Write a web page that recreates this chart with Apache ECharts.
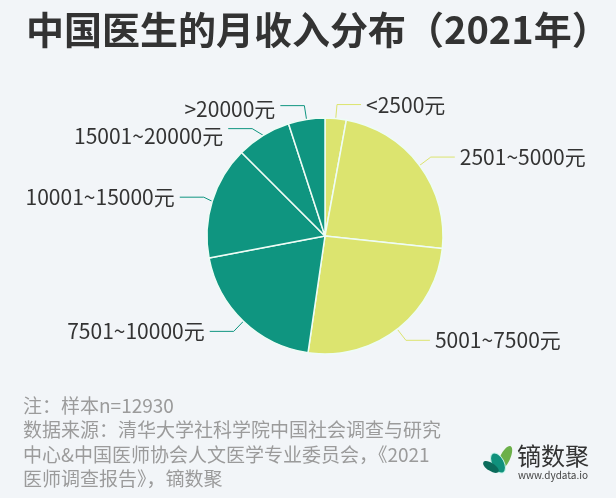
<!DOCTYPE html>
<html>
<head>
<meta charset="utf-8">
<script src="https://cdn.jsdelivr.net/npm/echarts@6/dist/echarts.min.js"></script>
<style>
  html, body { margin: 0; padding: 0; background: #f2f5f8; }
  #main { width: 616px; height: 498px; }
</style>
</head>
<body>
<div id="main"></div>
<script>
// 月收入区间（顺时针，从12点方向开始）
var incomeNames = ['<2500元', '2501~5000元', '5001~7500元', '7501~10000元', '10001~15000元', '15001~20000元', '>20000元'];
// 占比 %，从图上读出的估计值
var incomeShares = [2.9, 23.8, 25.6, 19.7, 15.5, 7.5, 5.0];
var sliceColors = ['#dce46f', '#dce46f', '#dce46f', '#0f9580', '#0f9580', '#0f9580', '#0f9580'];

var noteLines = [
    '注：样本n=12930',
    '数据来源：清华大学社科学院中国社会调查与研究',
    '中心&中国医师协会人文医学专业委员会，《2021',
    '医师调查报告》，镝数聚'
];

var font = '"Noto Sans CJK SC", "Noto Sans", sans-serif';

var pieData = incomeNames.map(function (n, i) {
    return { name: n, value: incomeShares[i], itemStyle: { color: sliceColors[i] } };
});

var footer = noteLines.map(function (t, i) {
    return {
        type: 'text',
        left: 23,
        top: 396 + i * 24.5,
        style: { text: t, fill: '#9b9b9b', font: '19px ' + font }
    };
});

var logo = [
    // 叶子
    { type: 'ellipse', shape: { cx: 0, cy: 0, rx: 5, ry: 13 }, x: 505, y: 458, rotation: -0.45,
      style: { fill: '#6cb04a' } },
    { type: 'ellipse', shape: { cx: 0, cy: 0, rx: 6, ry: 11 }, x: 498, y: 463, rotation: 0.5,
      style: { fill: '#10917c', stroke: '#c8f5ea', lineWidth: 1 } },
    { type: 'ellipse', shape: { cx: 0, cy: 0, rx: 4, ry: 9 }, x: 491, y: 467, rotation: 1.0,
      style: { fill: '#0b6b5b' } },
    { type: 'text', left: 517, top: 444, style: { text: '镝数聚', fill: '#333', font: '24px ' + font } },
    { type: 'text', left: 518, top: 470, style: { text: 'www.dydata.io', fill: '#444', font: '10px ' + font } }
];

var chart = echarts.init(document.getElementById('main'));
chart.setOption({
    backgroundColor: '#f2f5f8',
    title: {
        text: '中国医生的月收入分布（2021年）',
        left: 21,
        top: 6,
        textStyle: { fontFamily: font, fontSize: 38, fontWeight: 'bold', color: '#333' }
    },
    graphic: footer.concat(logo),
    series: [{
        type: 'pie',
        center: [325, 236],
        radius: [0, 118],
        startAngle: 90,
        clockwise: true,
        animation: false,
        data: pieData,
        itemStyle: { borderColor: '#eefcf5', borderWidth: 1.5 },
        label: {
            show: true,
            position: 'outside',
            formatter: '{b}',
            fontFamily: font,
            fontSize: 21,
            color: '#333'
        },
        labelLine: { show: true, length: 14, length2: 24, lineStyle: { width: 1 } },
        labelLayout: function (p) {
            if (p.dataIndex === 5) return { dy: 7 };
            if (p.dataIndex === 6) return { dy: 3 };
            return {};
        }
    }]
});
</script>
</body>
</html>
